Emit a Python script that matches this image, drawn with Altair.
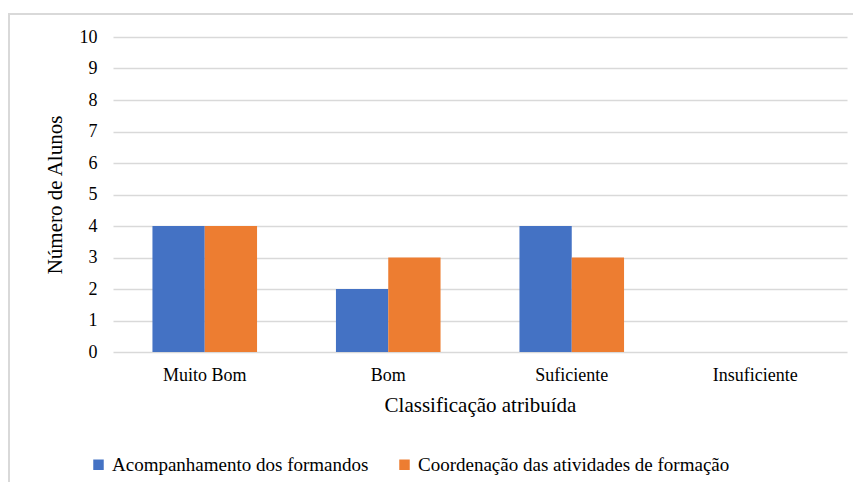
import altair as alt
import pandas as pd

categories = ["Muito Bom", "Bom", "Suficiente", "Insuficiente"]
series = ["Acompanhamento dos formandos", "Coordenação das atividades de formação"]
acompanhamento = [4, 2, 4, 0]
coordenacao = [4, 3, 3, 0]
colors = ["#4472C4", "#ED7D31"]
y_ticks = [0, 1, 2, 3, 4, 5, 6, 7, 8, 9, 10]

rows = []
for c, a, b in zip(categories, acompanhamento, coordenacao):
    rows.append({"cat": c, "serie": series[0], "val": a})
    rows.append({"cat": c, "serie": series[1], "val": b})
df = pd.DataFrame(rows)
one = pd.DataFrame({"k": [0]})

FONT = "Liberation Serif"

bars = alt.Chart(df).mark_bar().encode(
    x=alt.X("cat:N", sort=categories,
            scale=alt.Scale(paddingInner=0.43, paddingOuter=0.215),
            axis=alt.Axis(title="Classificação atribuída", labelAngle=0, ticks=False,
                          domain=False, grid=False,
                          labelFontSize=18, labelColor="#000",
                          labelPadding=14, titleFontSize=21,
                          titleFontWeight="normal", titleColor="#000", titlePadding=10)),
    xOffset=alt.XOffset("serie:N", sort=series),
    y=alt.Y("val:Q", scale=alt.Scale(domain=[0, 10]),
            axis=alt.Axis(title="Número de Alunos", values=y_ticks, labelOverlap=False,
                          ticks=False, domain=False, gridColor="#d9d9d9", gridWidth=1.5,
                          labelFontSize=18, labelColor="#000",
                          labelPadding=16, titleFontSize=21,
                          titleFontWeight="normal", titleColor="#000", titlePadding=14)),
    color=alt.Color("serie:N", sort=series,
                    scale=alt.Scale(domain=series, range=colors),
                    legend=alt.Legend(title=None, orient="none", direction="horizontal",
                                      legendX=-24, legendY=418,
                                      symbolType="square", symbolSize=110, symbolStrokeWidth=0,
                                      labelFontSize=19, labelColor="#000",
                                      labelLimit=500, columnPadding=26)),
)

left_border = alt.Chart(one).mark_rect(color="#d9d9d9").encode(
    x=alt.value(-105), x2=alt.value(-103), y=alt.value(-24), y2=alt.value(460))
top_border = alt.Chart(one).mark_rect(color="#d9d9d9").encode(
    x=alt.value(-105), x2=alt.value(760), y=alt.value(-24), y2=alt.value(-22))

chart = alt.layer(left_border, top_border, bars).properties(
    width=734, height=315,
    padding={"left": 105, "top": 29, "right": 6, "bottom": 130},
    autosize=alt.AutoSizeParams(type="none"),
    background="white",
).configure_view(stroke="transparent", strokeWidth=0).configure_axis(
    labelFont=FONT, titleFont=FONT, domain=False
).configure_axisX(grid=False, domain=False).configure_axisY(domain=False).configure_axisBand(
    grid=False, domain=False
).configure_legend(labelFont=FONT)

chart.save("out.html", embed_options={"renderer": "svg", "actions": False})
